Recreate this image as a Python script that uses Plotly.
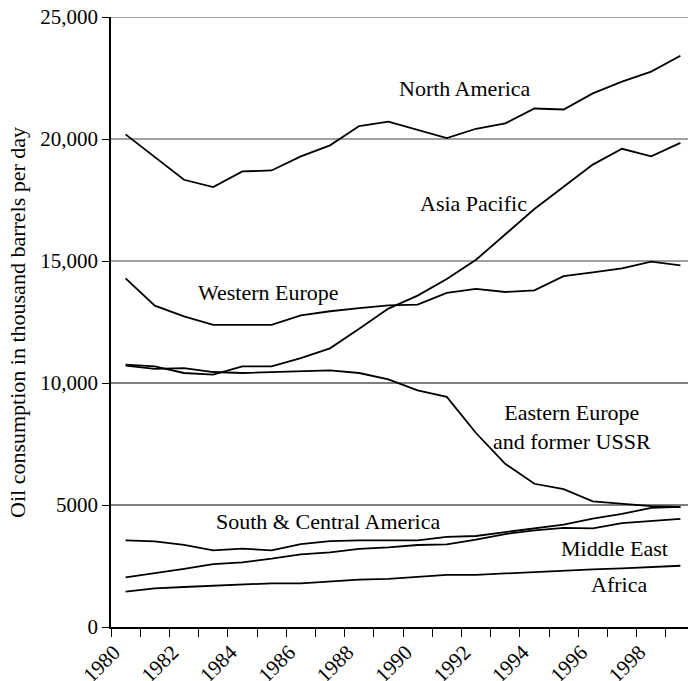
import plotly.graph_objects as go

years = [y + 0.5 for y in range(1980, 2000)]

north_america = [20190, 19250, 18330, 18030, 18670, 18710, 19290, 19740, 20530, 20710,
                 20370, 20040, 20420, 20640, 21250, 21210, 21870, 22350, 22760, 23410]
asia_pacific = [10750, 10680, 10410, 10340, 10680, 10680, 11020, 11420, 12220, 13050,
                13580, 14260, 15050, 16080, 17130, 18040, 18950, 19600, 19290, 19840]
western_europe = [14290, 13170, 12730, 12380, 12380, 12380, 12770, 12940, 13070, 13180,
                  13210, 13690, 13860, 13730, 13800, 14380, 14530, 14700, 14970, 14820]
eastern_europe = [10710, 10580, 10610, 10450, 10410, 10450, 10460, 10520, 10410, 10150,
                  9700, 9430, 7950, 6690, 5870, 5650, 5150, 5040, 4950, 4920]
south_central_america = [3550, 3510, 3370, 3140, 3210, 3140, 3400, 3520, 3550, 3550,
                         3550, 3690, 3730, 3890, 4040, 4200, 4440, 4640, 4880, 4920]
middle_east = [2030, 2200, 2380, 2580, 2650, 2800, 2980, 3060, 3200, 3260,
               3360, 3390, 3580, 3810, 3960, 4060, 4040, 4260, 4360, 4430]
africa = [1450, 1580, 1640, 1690, 1750, 1790, 1790, 1870, 1940, 1970,
          2070, 2140, 2140, 2200, 2240, 2310, 2360, 2400, 2470, 2510]

series = [north_america, asia_pacific, western_europe, eastern_europe,
          south_central_america, middle_east, africa]

labels = ["North America", "Asia Pacific", "Western Europe",
          "Eastern Europe<br>and former USSR", "South &amp; Central America",
          "Middle East", "Africa"]
label_x = [1992.13, 1992.41, 1985.39, 1995.78, 1987.43, 1997.23, 1997.41]
label_y = [22050, 17350, 13690, 8210, 4330, 3200, 1730]

y_tickvals = [0, 5000, 10000, 15000, 20000, 25000]
y_ticktext = ["0", "5000", "10,000", "15,000", "20,000", "25,000"]
light_grid = [15000, 20000, 25000]
dark_grid = [5000, 10000]
x_tickvals = list(range(1980, 2000, 2))
y_title = "Oil consumption in thousand barrels per day"

FONT = "Liberation Serif"

fig = go.Figure()
for s in series:
    fig.add_trace(go.Scatter(x=years, y=s, mode="lines",
                             line=dict(color="black", width=1.8),
                             showlegend=False, hoverinfo="skip"))

for txt, lx, ly in zip(labels, label_x, label_y):
    fig.add_annotation(x=lx, y=ly, text=txt, showarrow=False,
                       font=dict(family=FONT, size=22, color="black"),
                       xanchor="center", yanchor="middle", align="center")

fig.add_annotation(xref="paper", yref="paper", x=-0.163, y=0.5, text=y_title,
                   textangle=-90, showarrow=False, xanchor="center", yanchor="middle",
                   font=dict(family=FONT, size=22, color="black"))

for g in light_grid:
    fig.add_shape(type="line", xref="paper", x0=0, x1=1, yref="y", y0=g, y1=g,
                  line=dict(color="#808080", width=1.5), layer="below")
for g in dark_grid:
    fig.add_shape(type="line", xref="paper", x0=0, x1=1, yref="y", y0=g, y1=g,
                  line=dict(color="black", width=1.2), layer="below")

fig.update_layout(
    width=688, height=681,
    margin=dict(l=111, r=0, t=17, b=54),
    plot_bgcolor="white", paper_bgcolor="white",
    font=dict(family=FONT, size=21, color="black"),
    xaxis=dict(range=[1980, 1999.76], tickvals=x_tickvals, ticks="outside",
               ticklen=8, tickwidth=1.2, tickcolor="black", tickangle=-45,
               ticklabelstandoff=-5, ticklabelshift=3,
               showline=True, linecolor="black", linewidth=1.5, showgrid=False,
               zeroline=False, automargin=False, tickfont=dict(family=FONT, size=21),
               minor=dict(dtick=1, tick0=1980, ticks="outside", ticklen=8,
                          tickwidth=1.2, tickcolor="black", showgrid=False)),
    yaxis=dict(range=[0, 25000], tickvals=y_tickvals, ticktext=y_ticktext,
               ticks="outside", ticklen=7, tickwidth=1.2, tickcolor="black",
               showline=True, linecolor="black", linewidth=1.5, showgrid=False,
               zeroline=False, automargin=False, tickfont=dict(family=FONT, size=21)),
)

fig.write_html("out.html", config={"displayModeBar": False},
               post_script="document.body.style.margin='0';document.body.style.overflow='hidden';")
